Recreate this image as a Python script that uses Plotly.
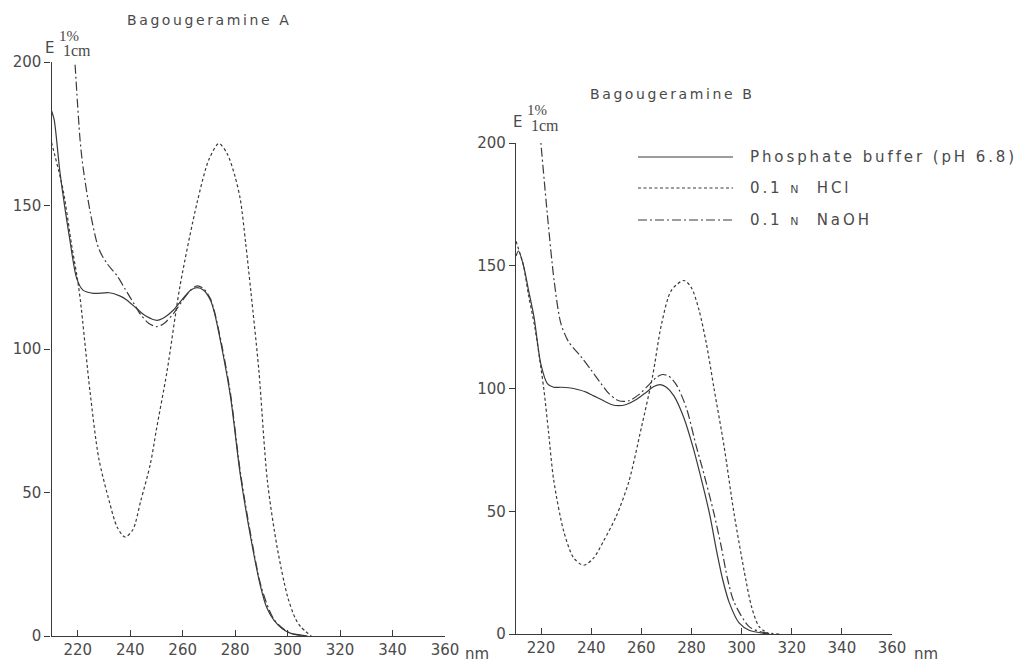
import plotly.graph_objects as go

# ---------------- data ----------------
# Bagougeramine A
a_buf_x = [210, 211, 213.3, 217, 219.6, 222, 226, 232, 236, 238.8, 242.6, 246, 250.2, 253, 256.5, 260.3, 263, 265.5, 268, 270.6, 272, 275, 278.3, 282, 286, 289.7, 292, 294.7, 298, 301, 307.6]
a_buf_y = [183, 180, 161, 138, 124.6, 120.5, 119.4, 119.6, 118.5, 117, 114, 111.5, 110, 111, 113.6, 117.8, 120.5, 121.4, 120.5, 117, 113, 100, 83, 56, 34, 17.2, 10, 5.6, 2.5, 1, 0]
a_hcl_x = [210, 214.5, 217.7, 219.6, 221, 224.7, 228, 232, 235, 238, 241, 244, 247.7, 250, 254, 259, 265.5, 270, 273.8, 277, 280, 282, 284, 286, 289, 292.3, 296, 300, 303, 305, 309]
a_hcl_y = [172, 155, 136, 126, 117, 85, 62, 47, 38, 34.5, 37, 47, 60, 72, 92, 122, 151, 166, 171.6, 168, 160, 152, 137, 120, 93, 54, 31, 13.7, 6, 3.2, 0]
a_naoh_x = [218.6, 220.9, 222, 224.7, 228, 231, 235, 238, 241.3, 244, 247, 250.2, 253, 256.6, 260, 263, 265.5, 268, 270.6, 272, 275, 278.3, 282, 286, 290, 295, 301, 308]
a_naoh_y = [205, 172.8, 163.5, 148, 135, 130, 125.5, 121, 116, 112, 109, 107.8, 109, 112.5, 117, 120.5, 122, 121, 117.5, 113.5, 101, 84, 57, 35, 17, 5.5, 1, 0]

# Bagougeramine B
b_buf_x = [210, 211, 213, 215, 217.2, 219.9, 222.5, 225, 228, 231, 235, 238, 241, 244, 248, 251, 254, 258, 262, 265, 267.5, 270, 273, 277, 280.5, 283.2, 287.2, 290, 292.5, 295, 299, 303, 311]
b_buf_y = [154, 156, 150, 140, 129, 110, 102, 100.5, 100.5, 100.3, 99.5, 98.5, 97, 95.5, 93.5, 93, 93.5, 95.5, 98.5, 100.8, 101.6, 100.5, 97, 88, 76.5, 66, 49, 34, 22, 13, 4.5, 1.5, 0]
b_hcl_x = [210, 213, 215, 217.5, 220, 221.2, 223, 225, 229, 233, 237, 241, 245, 250, 255, 260, 264.5, 268, 272, 277, 280, 283, 286, 289, 293, 297, 301.7, 304, 307, 311]
b_hcl_y = [160, 150, 138, 125, 108, 99, 82, 63, 42, 31, 28, 31, 38, 48, 62, 84, 105, 126, 140, 144, 141, 132, 118, 100, 76.5, 49, 22, 11, 3, 0]
b_naoh_x = [219.5, 222.5, 225.2, 227.9, 231, 235.9, 240, 243.9, 247, 251, 255, 259, 263, 266, 268.5, 271, 274, 278, 281.9, 284.5, 289, 292, 294.5, 297, 303, 308, 315]
b_naoh_y = [205, 171, 144, 126.5, 119, 113, 107.5, 102, 98, 95, 95, 97.5, 101.5, 104.5, 105.7, 105, 101.5, 92, 76.5, 67, 49, 35, 22, 13, 3, 0.8, 0]

x_ticks = [220, 240, 260, 280, 300, 320, 340, 360]
y_ticks = [0, 50, 100, 150, 200]
series_names = ["Phosphate buffer (pH 6.8)", "0.1 N HCl", "0.1 N NaOH"]
titles = ["Bagougeramine A", "Bagougeramine B"]

# ---------------- styling ----------------
W, H = 1020, 664
LINE = "#3a3a3a"
TXT = "#4a4a4a"
FONT = "DejaVu Sans"
dash_hcl = "3px,2.5px"
dash_naoh = "9px,3px,2px,3px"


def px(x):
    return x / W


def py(y):
    return 1 - y / H


def spaced(t, sp):
    return f"<span style='letter-spacing:{sp}px'>{t}</span>"


fig = go.Figure()

line_w = 1.2
specs = [
    ("x", "y", a_buf_x, a_buf_y, "solid", series_names[0]),
    ("x", "y", a_hcl_x, a_hcl_y, dash_hcl, series_names[1]),
    ("x", "y", a_naoh_x, a_naoh_y, dash_naoh, series_names[2]),
    ("x2", "y2", b_buf_x, b_buf_y, "solid", series_names[0]),
    ("x2", "y2", b_hcl_x, b_hcl_y, dash_hcl, series_names[1]),
    ("x2", "y2", b_naoh_x, b_naoh_y, dash_naoh, series_names[2]),
]
for xa, ya, xs, ys, dash, name in specs:
    fig.add_trace(go.Scatter(
        x=xs, y=ys, xaxis=xa, yaxis=ya, mode="lines", name=name,
        line=dict(color=LINE, width=line_w, dash=dash, shape="spline", smoothing=0.8),
        showlegend=False, hoverinfo="skip",
    ))

axis_common = dict(
    showgrid=False, zeroline=False, showline=True, linecolor=LINE, linewidth=1.2,
    tickfont=dict(family=FONT, size=15, color=TXT), tickcolor=LINE, tickwidth=1.2,
    automargin=False,
)

fig.update_layout(
    template="none",
    width=W, height=H,
    margin=dict(l=0, r=0, t=0, b=0, pad=0),
    paper_bgcolor="white", plot_bgcolor="white",
    showlegend=False,
    xaxis=dict(domain=[px(51.5), px(445)], range=[210, 360], tickvals=x_ticks,
               ticks="inside", ticklen=6, anchor="y", **axis_common),
    yaxis=dict(domain=[py(636), py(62)], range=[0, 200], tickvals=y_ticks,
               ticks="outside", ticklen=6, anchor="x", **axis_common),
    xaxis2=dict(domain=[px(516), px(892)], range=[210, 360], tickvals=x_ticks,
                ticks="inside", ticklen=6, anchor="y2", **axis_common),
    yaxis2=dict(domain=[py(634), py(143)], range=[0, 200], tickvals=y_ticks,
                ticks="outside", ticklen=6, anchor="x2", **axis_common),
)

ann = []


def add_text(t, x, y, size, family=FONT, xanchor="center"):
    ann.append(dict(text=t, x=px(x), y=py(y), xref="paper", yref="paper",
                    xanchor=xanchor, yanchor="middle", showarrow=False,
                    font=dict(family=family, size=size, color=TXT)))


# titles
add_text(spaced(titles[0], 2.6), 125, 20, 14, xanchor="left")
add_text(spaced(titles[1], 2.6), 588, 94, 14, xanchor="left")

# E 1% 1cm labels
for ex, ey in [(49, 48), (517, 122)]:
    add_text("E", ex, ey, 15)
    add_text("1%", ex + 20, ey - 12, 15, "Liberation Serif")
    add_text("1cm", ex + 28, ey + 3, 16, "Liberation Serif")

# "nm" after last tick label
for nx in [477, 926]:
    add_text("nm", nx, 654, 15)

# legend (manual)
leg_rows = [157, 188, 220]
leg_dash = ["solid", dash_hcl, dash_naoh]
leg_text = [spaced("Phosphate buffer (pH 6.8)", 2.9),
            spaced("0.1 <span style='font-size:11px'>N</span>  HCl", 2.9),
            spaced("0.1 <span style='font-size:11px'>N</span>  NaOH", 2.9)]
shapes = []
for ry, d, t in zip(leg_rows, leg_dash, leg_text):
    shapes.append(dict(type="line", xref="paper", yref="paper",
                       x0=px(638), x1=px(733), y0=py(ry), y1=py(ry),
                       line=dict(color=LINE, width=line_w, dash=d)))
    add_text(t, 748, ry, 15, xanchor="left")

fig.update_layout(annotations=ann, shapes=shapes)

fig.write_html("out.html", config={"displayModeBar": False},
               post_script="document.body.style.margin='0';")
